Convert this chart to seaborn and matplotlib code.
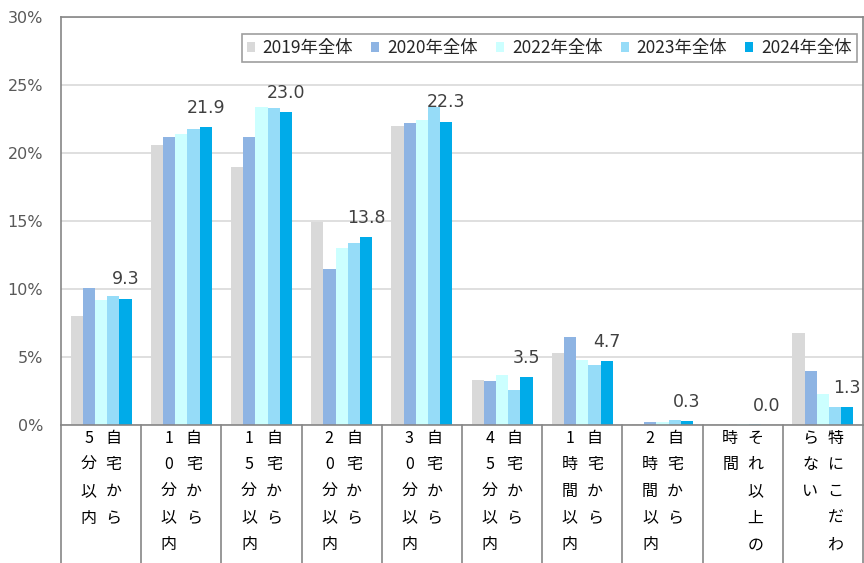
import pandas as pd
import matplotlib
matplotlib.use("Agg")
import matplotlib.pyplot as plt
import seaborn as sns

# カテゴリ (改行 = 縦書きの列の区切り)
categories = ["自宅から\n5分以内", "自宅から\n10分以内", "自宅から\n15分以内", "自宅から\n20分以内",
              "自宅から\n30分以内", "自宅から\n45分以内", "自宅から\n1時間以内", "自宅から\n2時間以内",
              "それ以上の\n時間", "特にこだわ\nらない"]
series = ["2019年全体", "2020年全体", "2022年全体", "2023年全体", "2024年全体"]
v2019 = [8.0, 20.6, 19.0, 14.9, 22.0, 3.3, 5.3, 0.1, 0.0, 6.8]
v2020 = [10.1, 21.2, 21.2, 11.5, 22.2, 3.2, 6.5, 0.2, 0.0, 4.0]
v2022 = [9.2, 21.4, 23.4, 13.0, 22.4, 3.7, 4.8, 0.2, 0.05, 2.3]
v2023 = [9.5, 21.8, 23.3, 13.4, 23.4, 2.6, 4.4, 0.4, 0.1, 1.3]
v2024 = [9.3, 21.9, 23.0, 13.8, 22.3, 3.5, 4.7, 0.3, 0.0, 1.3]
colors = ["#D9D9D9", "#8EB4E3", "#CCFFFF", "#96DCF8", "#00ABE9"]

rows = []
for s, vals in zip(series, [v2019, v2020, v2022, v2023, v2024]):
    for c, v in zip(categories, vals):
        rows.append({"cat": c, "series": s, "value": v})
df = pd.DataFrame(rows)

sns.set_style("white")
plt.rcParams["font.family"] = ["DejaVu Sans"]
jp = ["Noto Sans CJK JP", "DejaVu Sans"]

fig, ax = plt.subplots(figsize=(8.64, 5.63), dpi=100)
fig.subplots_adjust(left=0.0706, right=0.9988, top=0.9698, bottom=0.2451)

sns.barplot(data=df, x="cat", y="value", hue="series", palette=colors,
            width=0.76, linewidth=0, saturation=1, ax=ax)

ax.set_xlim(-0.5, len(categories) - 0.5)
ax.set_ylim(0, 30)
ax.set_yticks(range(0, 31, 5))
ax.set_yticklabels([f"{t}%" for t in range(0, 31, 5)], fontsize=11.5, color="#595959")
ax.tick_params(axis="y", length=0, pad=13)
ax.set_xticks([])
ax.set_xlabel("")
ax.set_ylabel("")
ax.yaxis.grid(True, color="#D9D9D9", lw=1.2)
ax.set_axisbelow(True)
for sp in ax.spines.values():
    sp.set_color("#868686")
    sp.set_linewidth(1.2)

# 2024年の値ラベル
ax.bar_label(ax.containers[-1], fmt="%.1f", padding=7.5, fontsize=12.5, color="#404040")

# 縦書きのカテゴリラベルと表の罫線
for i, lab in enumerate(categories):
    cols = lab.split("\n")
    for j, col in enumerate(cols):
        xpos = i + 0.156 - 0.312 * j
        for k, ch in enumerate(col):
            ax.annotate(ch, xy=(xpos, 0), xycoords=("data", "axes fraction"),
                        xytext=(0, -(13 + 26.7 * k) * 0.72), textcoords="offset points",
                        ha="center", va="center", fontsize=11.5, family=jp, color="#000000",
                        annotation_clip=False)
for i in range(len(categories) + 1):
    ax.plot([i - 0.5, i - 0.5], [0, -0.4], transform=ax.get_xaxis_transform(),
            color="#868686", lw=1.2, clip_on=False)

leg = ax.legend(loc="upper right", bbox_to_anchor=(1.0035, 0.980), ncol=5,
                prop={"family": jp, "size": 12.5}, frameon=True, fancybox=False,
                edgecolor="#868686", handlelength=0.46, handleheight=0.46,
                handletextpad=0.45, columnspacing=1.05, borderpad=0.3)
leg.get_frame().set_linewidth(1.2)

plt.savefig("out.png", dpi=100)
